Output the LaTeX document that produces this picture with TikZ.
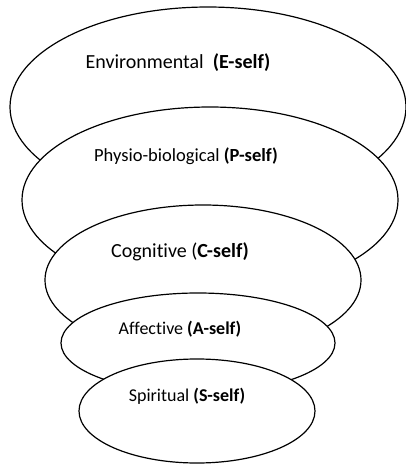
\documentclass[tikz,border=0pt]{standalone}
\usepackage{fontspec}
\setmainfont[RawFeature={-liga}]{Carlito}
\usetikzlibrary{shapes.geometric}
\tikzset{
  layer/.style={ellipse, draw=black, line width=1.2pt, fill=white, inner sep=0pt},
  lbl/.style={inner sep=0pt, text=black}
}
\begin{document}
\begin{tikzpicture}[x=1pt,y=-1pt]
\useasboundingbox (0,0) rectangle (406,464);
\node[layer, minimum width=396pt, minimum height=200pt] (E) at (208,107) {};
\node[layer, minimum width=376pt, minimum height=186pt] (P) at (210,200) {};
\node[layer, minimum width=316pt, minimum height=150pt] (C) at (203,280) {};
\node[layer, minimum width=274pt, minimum height=100pt] (A) at (198,343) {};
\node[layer, minimum width=236pt, minimum height=104pt] (S) at (197,411) {};
\node[lbl, font=\fontsize{20}{24}\selectfont] (Et) at (178,63) {Environmental~ \textbf{(E-self)}};
\node[lbl, font=\fontsize{18.5}{22}\selectfont] (Pt) at (186,156) {Physio-biological \textbf{(P-self)}};
\node[lbl, font=\fontsize{20}{24}\selectfont] (Ct) at (180,252) {Cognitive (\textbf{C-self)}};
\node[lbl, font=\fontsize{18}{22}\selectfont] (At) at (180,329) {Affective \textbf{(A-self)}};
\node[lbl, font=\fontsize{18}{22}\selectfont] (St) at (187,396) {Spiritual \textbf{(S-self)}};
\end{tikzpicture}
\end{document}
